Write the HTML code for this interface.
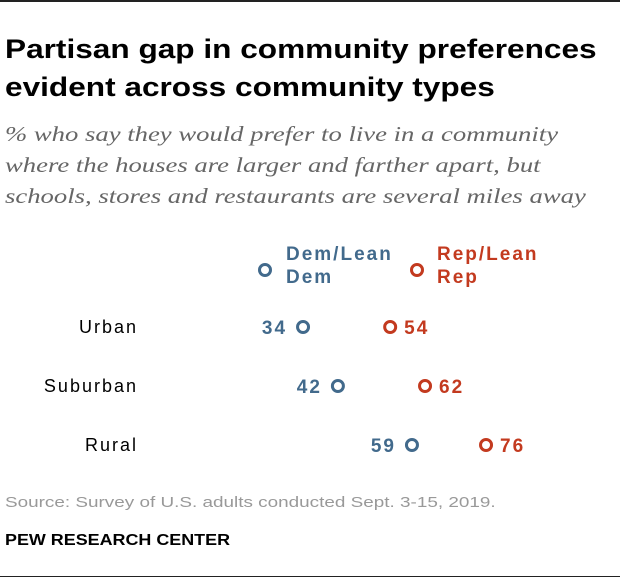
<!DOCTYPE html>
<html><head><meta charset="utf-8"><style>
body{margin:0;background:#fff;width:620px;height:586px;overflow:hidden;position:relative;font-family:"Liberation Sans",sans-serif}
.t{position:absolute;white-space:nowrap;transform-origin:0 0}
</style></head><body>
<div style="position:absolute;left:0;top:0;width:620px;height:2px;background:#222"></div>
<div class="t" style="left:5px;top:30px;font-size:27px;font-weight:bold;line-height:38px;color:#000;transform:scaleX(1.17)">Partisan gap in community preferences<br>evident across community types</div>
<div class="t" style="left:5px;top:119px;font-family:'Liberation Serif',serif;font-style:italic;font-size:21px;line-height:31px;color:#666;transform:scaleX(1.27)">% who say they would prefer to live in a community<br>where the houses are larger and farther apart, but<br>schools, stores and restaurants are several miles away</div>
<svg id="c" width="620" height="586" style="position:absolute;left:0;top:0"></svg>
<div class="t" style="left:5px;top:494px;font-size:15px;color:#999;transform:scaleX(1.26)">Source: Survey of U.S. adults conducted Sept. 3-15, 2019.</div>
<div class="t" style="left:5px;top:532px;font-size:16px;font-weight:bold;color:#000;transform:scaleX(1.12)">PEW RESEARCH CENTER</div>
<div style="position:absolute;left:0;top:576px;width:620px;height:1px;background:#222"></div>
<script>
const categories=["Urban","Suburban","Rural"];
const demValues=[34,42,59];
const repValues=[54,62,76];
const DEM="#426a8c",REP="#c33a1f";
const NS="http://www.w3.org/2000/svg";
const svg=document.getElementById('c');
function x(v){return 154.9+4.357*v;}
function y(i){return 327+i*59;}
function mk(tag,attrs,txt){const e=document.createElementNS(NS,tag);for(const k in attrs)e.setAttribute(k,attrs[k]);if(txt!==undefined)e.textContent=txt;svg.appendChild(e);return e;}
let e=mk('circle',{cx:265,cy:270,r:5.5,fill:'none',stroke:DEM,'stroke-width':3});


e=mk('text',{x:286,y:260,fill:DEM,'font-size':19,'letter-spacing':2,'font-weight':'bold','font-family':'Liberation Sans'});


e.innerHTML='<tspan x="286">Dem/Lean</tspan><tspan x="286" dy="23">Dem</tspan>';
e=mk('circle',{cx:417,cy:270,r:5.5,fill:'none',stroke:REP,'stroke-width':3});


e=mk('text',{x:437,y:260,fill:REP,'font-size':19,'letter-spacing':2,'font-weight':'bold','font-family':'Liberation Sans'});


e.innerHTML='<tspan x="437">Rep/Lean</tspan><tspan x="437" dy="23">Rep</tspan>';
categories.forEach((c,i)=>{
  const cy=y(i);
  let t=mk('text',{x:138,y:cy+6,'text-anchor':'end',fill:'#000','font-size':18,'letter-spacing':2,'font-family':'Liberation Sans'},c);
  
  
  let d=mk('circle',{cx:x(demValues[i]),cy:cy,r:5.5,fill:'none',stroke:DEM,'stroke-width':3});
  
  
  let dl=mk('text',{x:x(demValues[i])-16,y:cy+7,'text-anchor':'end',fill:DEM,'font-size':19,'letter-spacing':2,'font-weight':'bold','font-family':'Liberation Sans'},demValues[i]);
  
  
  let r=mk('circle',{cx:x(repValues[i]),cy:cy,r:5.5,fill:'none',stroke:REP,'stroke-width':3});
  
  
  let rl=mk('text',{x:x(repValues[i])+14,y:cy+7,fill:REP,'font-size':19,'letter-spacing':2,'font-weight':'bold','font-family':'Liberation Sans'},repValues[i]);
  
  
});
</script>
</body></html>
